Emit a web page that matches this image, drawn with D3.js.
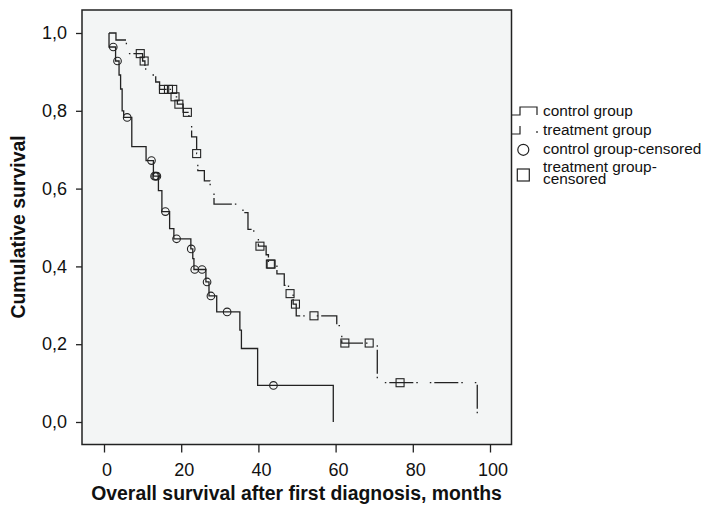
<!DOCTYPE html>
<html>
<head>
<meta charset="utf-8">
<script src="https://cdn.jsdelivr.net/npm/d3@7"></script>
<style>
  body { margin: 0; background: #ffffff; }
  text { font-family: "Liberation Sans", Arial, sans-serif; fill: #111; }
</style>
</head>
<body>
<svg id="chart" width="705" height="507"></svg>
<script>
// Kaplan–Meier estimates (months, cumulative survival after each event)
const startTime = 1.3;

const controlTimes = [1.3, 3.0, 3.9, 4.3, 4.7, 5.1, 7.2, 10.9, 12.8, 14.1, 15.0, 17.0, 18.1,
  22.5, 23.0, 23.3, 26.4, 27.2, 29.2, 35.2, 35.6, 39.8, 59.4];
const controlSurvival = [0.964, 0.928, 0.892, 0.856, 0.80, 0.783, 0.708, 0.672, 0.632, 0.595, 0.541, 0.497, 0.471,
  0.445, 0.42, 0.392, 0.36, 0.324, 0.283, 0.236, 0.189, 0.094, 0];
const controlCensorTimes = [2.4, 3.5, 6.0, 12.3, 13.1, 13.4, 13.7, 15.9, 18.8, 22.6, 23.5, 25.4, 26.7, 27.7, 31.9, 43.9];
const controlCensorSurvival = [0.964, 0.928, 0.783, 0.672, 0.632, 0.632, 0.632, 0.541, 0.471, 0.445, 0.392, 0.392, 0.36, 0.324, 0.283, 0.094];

const treatmentTimes = [3.1, 5.8, 6.4, 10.0, 10.6, 10.8, 13.4, 14.4, 18.3, 19.0, 20.5, 22.0, 22.7, 24.0, 24.3,
  26.0, 27.5, 28.5, 36.0, 37.3, 38.8, 40.0, 42.0, 42.6, 44.8, 46.7, 47.8, 49.0, 49.8, 60.3, 61.6, 70.8, 96.7];
const treatmentSurvival = [0.982, 0.964, 0.947, 0.928, 0.91, 0.892, 0.874, 0.855, 0.836, 0.817, 0.796, 0.776, 0.733, 0.69, 0.646,
  0.62, 0.59, 0.56, 0.538, 0.495, 0.473, 0.452, 0.43, 0.406, 0.381, 0.351, 0.33, 0.303, 0.273, 0.248, 0.203, 0.101, 0];
const treatmentCensorTimes = [9.4, 10.4, 15.4, 16.7, 17.8, 18.4, 19.4, 21.6, 24.0, 40.4, 43.1, 43.3, 48.2, 49.6, 54.4, 62.4, 68.7, 76.7];
const treatmentCensorSurvival = [0.947, 0.928, 0.855, 0.855, 0.855, 0.836, 0.817, 0.796, 0.69, 0.452, 0.406, 0.406, 0.33, 0.303, 0.273, 0.203, 0.203, 0.101];

const xTicks = [0, 20, 40, 60, 80, 100];
const yTicks = [0, 0.2, 0.4, 0.6, 0.8, 1.0];
const groupLabels = ["control group", "treatment group"];
const censorLabels = [["control group-censored"], ["treatment group-", "censored"]];
const xTitle = "Overall survival after first diagnosis, months";
const yTitle = "Cumulative survival";

// ---- layout ----
const frame = { left: 82, right: 511.5, top: 10, bottom: 444.5 };
const ink = "#222";
const treatmentDash = "24,3,1.5,12,1.5,3";

const svg = d3.select("#chart");

const x = d3.scaleLinear().domain([0, 100]).range([104, 490]);
const y = d3.scaleLinear().domain([0, 1]).range([422, 33]);

// plot background and frame
svg.append("rect")
  .attr("x", frame.left).attr("y", frame.top)
  .attr("width", frame.right - frame.left).attr("height", frame.bottom - frame.top)
  .attr("fill", "#f3f5f5").attr("stroke", ink).attr("stroke-width", 1.5);

// axes
const fmt = d => d3.format(".1f")(d).replace(".", ",");
const yAxis = svg.append("g")
  .attr("transform", `translate(${frame.left},0)`)
  .call(d3.axisLeft(y).tickValues(yTicks).tickFormat(fmt).tickSize(6).tickPadding(9));
const xAxis = svg.append("g")
  .attr("transform", `translate(0,${frame.bottom})`)
  .call(d3.axisBottom(x).tickValues(xTicks).tickFormat(d3.format("d")).tickSize(8).tickPadding(11));
[xAxis, yAxis].forEach(g => {
  g.select(".domain").remove();
  g.selectAll(".tick line").attr("stroke", ink).attr("stroke-width", 1.3);
  g.selectAll(".tick text").attr("font-size", 18).attr("fill", "#111")
    .attr("font-family", "'Liberation Sans', Arial, sans-serif");
});
xAxis.selectAll(".tick text").attr("dx", 2.5);

// axis titles
svg.append("text")
  .attr("x", 296.5).attr("y", 500)
  .attr("text-anchor", "middle").attr("font-size", 19.4).attr("font-weight", "bold")
  .text(xTitle);
svg.append("text")
  .attr("transform", "translate(25,227) rotate(-90)")
  .attr("text-anchor", "middle").attr("font-size", 19.4).attr("font-weight", "bold")
  .text(yTitle);

// survival step curves
const stepLine = d3.line().x(d => x(d[0])).y(d => y(d[1])).curve(d3.curveStepAfter);
const curvePoints = (times, surv) => [[startTime, 1]].concat(times.map((t, i) => [t, surv[i]]));

const plot = svg.append("g");
plot.append("path")
  .datum(curvePoints(controlTimes, controlSurvival))
  .attr("d", stepLine)
  .attr("fill", "none").attr("stroke", ink).attr("stroke-width", 1.3);
plot.append("path")
  .datum(curvePoints(treatmentTimes, treatmentSurvival))
  .attr("d", stepLine)
  .attr("fill", "none").attr("stroke", ink).attr("stroke-width", 1.3)
  .attr("stroke-dasharray", treatmentDash);

// censored observations
plot.selectAll(".cc")
  .data(controlCensorTimes.map((t, i) => [t, controlCensorSurvival[i]]))
  .join("circle")
  .attr("cx", d => x(d[0])).attr("cy", d => y(d[1])).attr("r", 3.8)
  .attr("fill", "none").attr("stroke", ink).attr("stroke-width", 1.1);
const sq = 8;
plot.selectAll(".tc")
  .data(treatmentCensorTimes.map((t, i) => [t, treatmentCensorSurvival[i]]))
  .join("rect")
  .attr("x", d => x(d[0]) - sq / 2).attr("y", d => y(d[1]) - sq / 2)
  .attr("width", sq).attr("height", sq)
  .attr("fill", "none").attr("stroke", ink).attr("stroke-width", 1.1);

// legend
const legend = svg.append("g").attr("font-size", 15.4);
const lx = 543;
const rowBase = [116, 135, 154.3, 171.7];
const stepSymbol = b => `M512,${b - 1} H520 V${b - 9} H537 V${b - 1}`;

legend.append("path").attr("d", stepSymbol(rowBase[0]))
  .attr("fill", "none").attr("stroke", ink).attr("stroke-width", 1.2);
legend.append("path").attr("d", stepSymbol(rowBase[1]))
  .attr("fill", "none").attr("stroke", ink).attr("stroke-width", 1.2)
  .attr("stroke-dasharray", "16,22,2,20");
groupLabels.forEach((s, i) => {
  legend.append("text").attr("x", lx).attr("y", rowBase[i]).text(s);
});

legend.append("circle").attr("cx", 523.3).attr("cy", rowBase[2] - 4.5).attr("r", 5.5)
  .attr("fill", "none").attr("stroke", ink).attr("stroke-width", 1.2);
legend.append("rect").attr("x", 517.3).attr("y", 169).attr("width", 12).attr("height", 12)
  .attr("fill", "none").attr("stroke", ink).attr("stroke-width", 1.2);

// two-line label set tightly, as a wrapped legend entry
censorLabels[0].forEach((s, j) => {
  legend.append("text").attr("x", lx).attr("y", rowBase[2] + j * 12.6).text(s);
});
censorLabels[1].forEach((s, j) => {
  legend.append("text").attr("x", lx).attr("y", rowBase[3] + j * 12.6).text(s);
});
</script>
</body>
</html>
